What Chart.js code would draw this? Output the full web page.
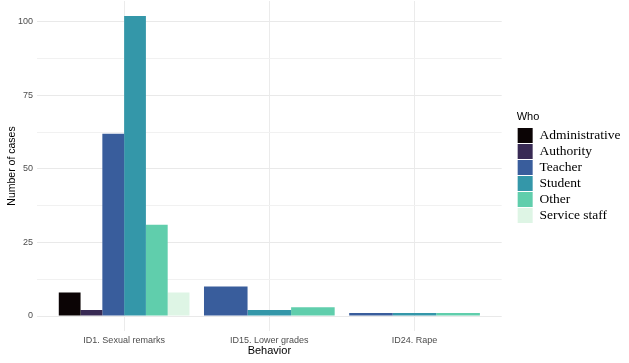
<!DOCTYPE html>
<html>
<head>
<meta charset="utf-8">
<script src="https://cdn.jsdelivr.net/npm/chart.js@4.4.0/dist/chart.umd.min.js"></script>
<style>
  html, body { margin: 0; background: #fff; }
  canvas { display: block; }
</style>
</head>
<body>
<canvas id="chart" width="629" height="363"></canvas>
<script>
'use strict';

// ---- data ----
const behaviors = ['ID1. Sexual remarks', 'ID15. Lower grades', 'ID24. Rape'];
const who = ['Administrative', 'Authority', 'Teacher', 'Student', 'Other', 'Service staff'];
const administrative = [8, null, null];
const authority      = [2, null, null];
const teacher        = [62, 10, 1];
const student        = [102, 2, 1];
const other          = [31, 3, 1];
const serviceStaff   = [8, null, null];
const yTicks = [0, 12.5, 25, 37.5, 50, 62.5, 75, 87.5, 100];

// mako palette, 6 steps
const makoColors = ['#0B0405', '#382A54', '#395D9C', '#3497A9', '#60CEAC', '#DEF5E5'];
const series = [administrative, authority, teacher, student, other, serviceStaff];

const datasets = series.map((vals, i) => ({
    label: who[i],
    data: vals.map((v, j) => ({ x: j + 1, y: v })),
    backgroundColor: makoColors[i],
    borderWidth: 0,
    categoryPercentage: 0.9,
    barPercentage: 1.0,
}));

const gridCol = '#ebebeb';

new Chart(document.getElementById('chart'), {
    type: 'bar',
    data: { datasets },
    options: {
        responsive: false,
        animation: false,
        skipNull: true,
        layout: { padding: { left: 0, right: 9, top: 1, bottom: 0 } },
        plugins: {
            tooltip: { enabled: false },
            legend: {
                position: 'right',
                fullSize: false,
                align: 'center',
                title: {
                    display: true, text: 'Who', position: 'start', color: '#000',
                    font: { family: "'Liberation Sans'", size: 11 },
                    padding: { top: 4, bottom: 2 },
                },
                labels: {
                    color: '#000',
                    font: { family: "'Liberation Serif'", size: 13.5 },
                    boxWidth: 15, boxHeight: 15, padding: 1,
                },
            },
        },
        scales: {
            x: {
                type: 'linear', min: 0.4, max: 3.6,
                offset: false,
                afterBuildTicks: s => { s.ticks = behaviors.map((_, i) => ({ value: i + 1 })); },
                afterFit: s => { s.height = 32; s.paddingLeft = 0; s.paddingRight = 0; },
                grid: { color: gridCol, drawTicks: false, offset: false },
                border: { display: false },
                ticks: {
                    autoSkip: false, maxRotation: 0, padding: 4, color: '#4d4d4d',
                    font: { family: "'Liberation Sans'", size: 9 },
                    callback: v => behaviors[Math.round(v) - 1],
                },
                title: {
                    display: true, text: 'Behavior', color: '#000',
                    font: { family: "'Liberation Sans'", size: 11, lineHeight: 1 },
                    padding: { top: 0, bottom: 6.5 },
                },
            },
            y: {
                min: -5.1, max: 107.1,
                afterBuildTicks: s => { s.ticks = yTicks.map(v => ({ value: v })); },
                afterFit: s => { s.width = 37; s.paddingTop = 0; s.paddingBottom = 0; },
                grid: {
                    drawTicks: false,
                    color: c => (c.tick && c.tick.value % 25 === 0) ? '#e9e9e9' : '#f1f1f1',
                },
                border: { display: false },
                ticks: {
                    autoSkip: false, padding: 4, color: '#4d4d4d',
                    font: { family: "'Liberation Sans'", size: 9 },
                    callback: v => (v % 25 === 0 ? String(v) : ''),
                },
                title: {
                    display: true, text: 'Number of cases', color: '#000',
                    font: { family: "'Liberation Sans'", size: 10.5 },
                    padding: { top: 5.5, bottom: 0 },
                },
            },
            // spacer between the panel and the legend
            gap: {
                type: 'linear', position: 'right', display: true,
                grid: { display: false, drawOnChartArea: false },
                border: { display: false },
                ticks: { display: false },
                afterFit: s => { s.width = 15; },
            },
        },
    },
});
</script>
</body>
</html>
